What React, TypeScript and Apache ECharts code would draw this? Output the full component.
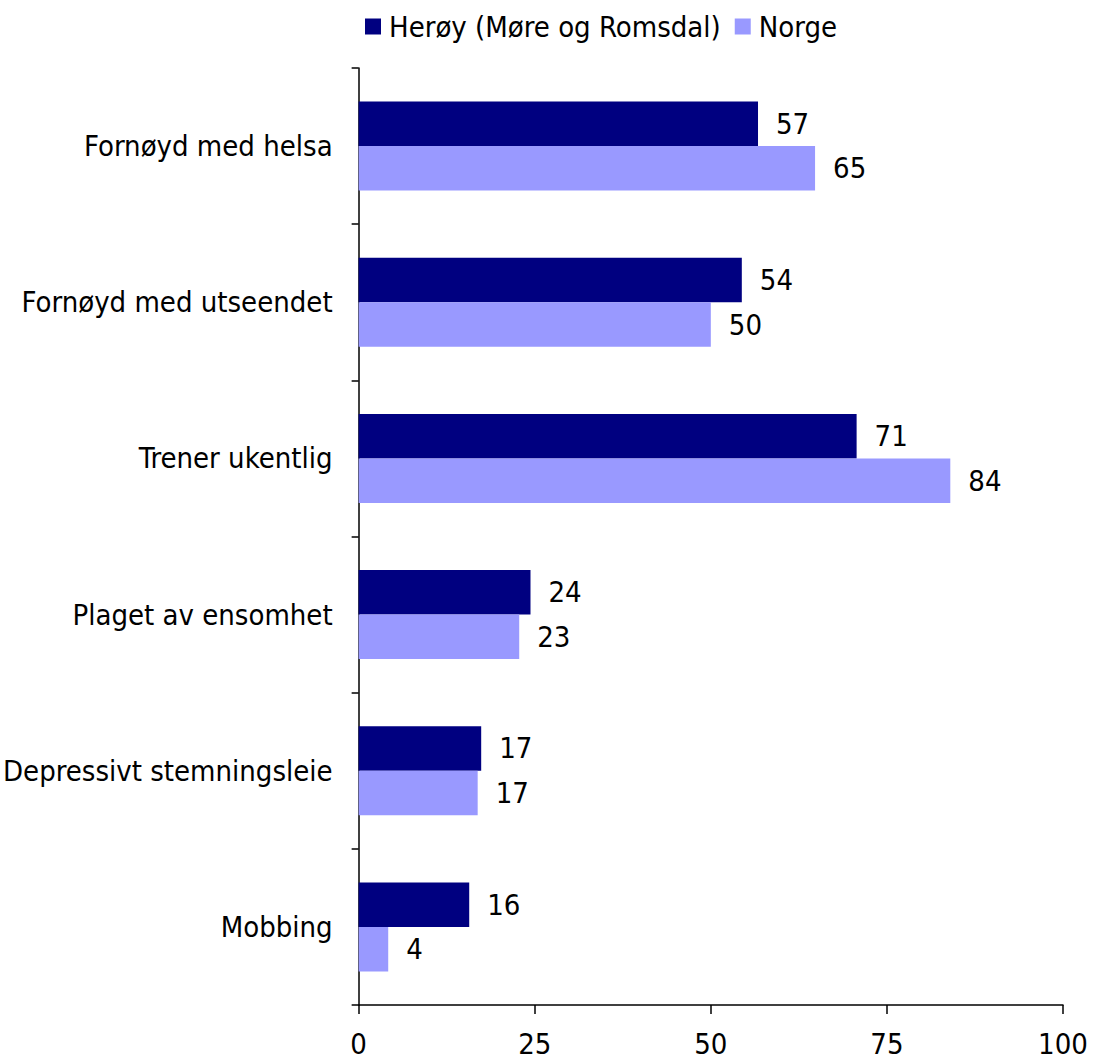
import React, { useEffect, useRef } from "react";
import * as echarts from "echarts";

const categories = [
  "Fornøyd med helsa",
  "Fornøyd med utseendet",
  "Trener ukentlig",
  "Plaget av ensomhet",
  "Depressivt stemningsleie",
  "Mobbing",
];
const heroyValues = [56.7, 54.4, 70.7, 24.4, 17.4, 15.7];
const norgeValues = [64.8, 50.0, 84.0, 22.8, 16.9, 4.2];
const seriesNames = ["Herøy (Møre og Romsdal)", "Norge"];
const xTicks = [0, 25, 50, 75, 100];

const FONT = "'DejaVu Sans Condensed', 'DejaVu Sans', sans-serif";
const FS = 29;

export default function App() {
  const ref = useRef<HTMLDivElement>(null);
  useEffect(() => {
    if (!ref.current) return;
    const chart = echarts.init(ref.current, undefined, { renderer: "svg" });
    const labelCfg = {
      show: true,
      position: "right" as const,
      distance: 18,
      color: "#000",
      fontFamily: FONT,
      fontSize: FS,
      formatter: (p: any) => String(Math.round(p.value)),
    };
    chart.setOption({
      animation: false,
      backgroundColor: "#fff",
      textStyle: { fontFamily: FONT },
      legend: {
        top: 7,
        left: 360,
        icon: "rect",
        itemWidth: 16,
        itemHeight: 16,
        itemGap: 14,
        textStyle: { fontFamily: FONT, fontSize: FS, color: "#000", padding: [0, 0, 0, 3] },
        data: seriesNames,
      },
      grid: { left: 358, right: 31, top: 68, bottom: 54, containLabel: false },
      xAxis: {
        type: "value",
        min: xTicks[0],
        max: xTicks[xTicks.length - 1],
        interval: 25,
        splitLine: { show: false },
        axisLine: { show: true, lineStyle: { color: "#000", width: 1.5 } },
        axisTick: { show: true, inside: false, length: 9, lineStyle: { color: "#000", width: 1.5 } },
        axisLabel: { color: "#000", fontFamily: FONT, fontSize: FS, margin: 24 },
      },
      yAxis: {
        type: "category",
        inverse: true,
        data: categories,
        axisLine: { show: true, lineStyle: { color: "#000", width: 1.5 } },
        axisTick: { show: true, inside: false, length: 7, lineStyle: { color: "#000", width: 1.5 } },
        axisLabel: { color: "#000", fontFamily: FONT, fontSize: FS, margin: 26 },
        splitLine: { show: false },
      },
      series: [
        {
          name: seriesNames[0],
          type: "bar",
          data: heroyValues,
          barGap: "0%",
          barCategoryGap: "43%",
          itemStyle: { color: "#000080" },
          label: labelCfg,
        },
        {
          name: seriesNames[1],
          type: "bar",
          data: norgeValues,
          barGap: "0%",
          barCategoryGap: "43%",
          itemStyle: { color: "#9999FF" },
          label: labelCfg,
        },
      ],
    });
    return () => chart.dispose();
  }, []);
  return (
    <div
      ref={ref}
      style={{ position: "fixed", left: 0, top: 0, width: 1094, height: 1059, background: "#fff" }}
    />
  );
}
